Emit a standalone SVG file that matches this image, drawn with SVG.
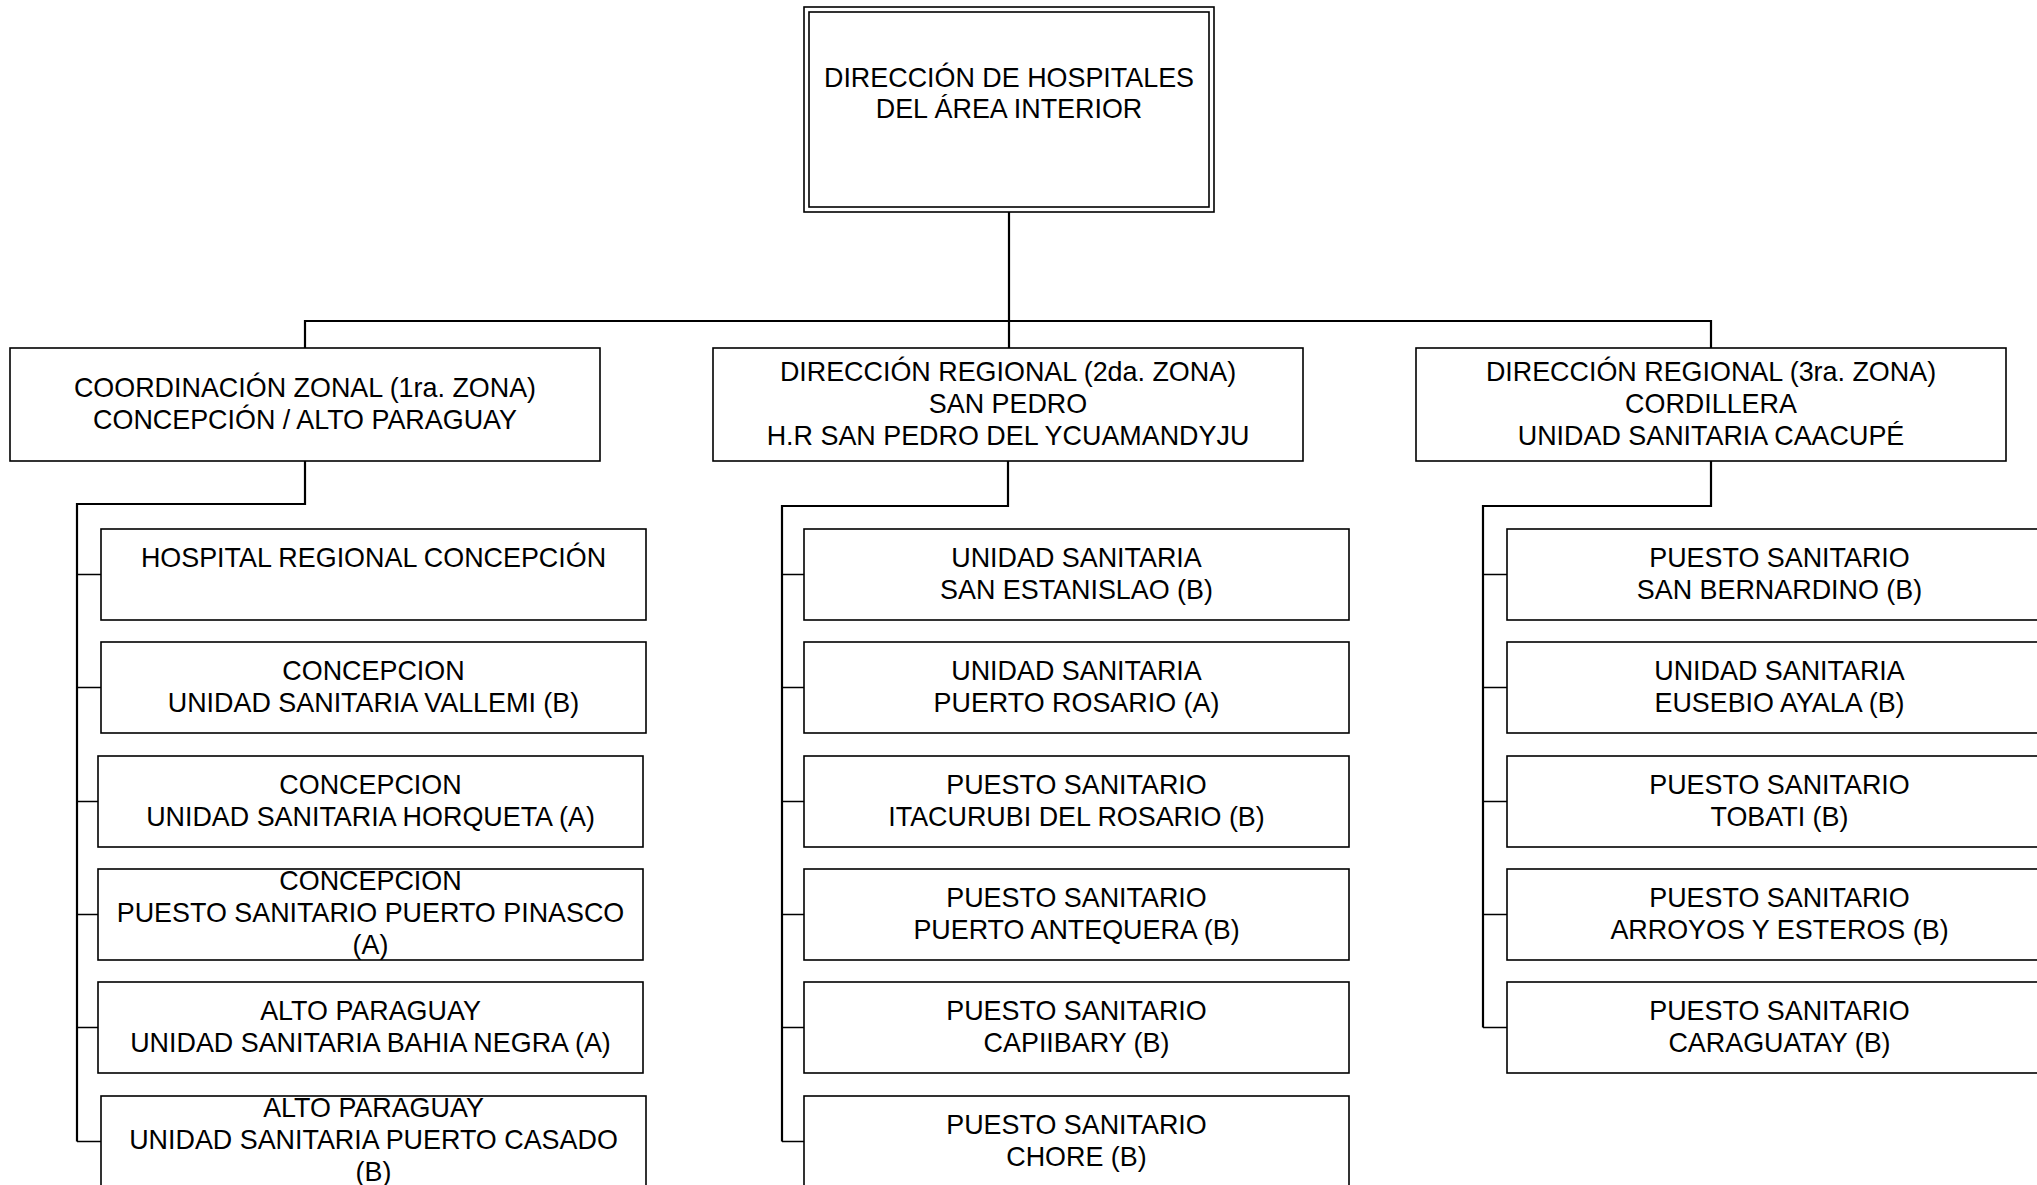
<svg xmlns="http://www.w3.org/2000/svg" width="2037" height="1185" viewBox="0 0 2037 1185">
<style>
.bg{fill:#ffffff}
.box{fill:#ffffff;stroke:#000;stroke-width:1.6}
.conn{fill:none;stroke:#000;stroke-width:2.2}
.stub{fill:none;stroke:#000;stroke-width:1.5}
text{font-family:"Liberation Sans",Arial,sans-serif;font-size:26.9px;fill:#000;text-anchor:middle}
</style>
<rect class="bg" x="0" y="0" width="2037" height="1185"/>
<g id="connectors">
<path class="conn" d="M1009 212 V348"/>
<path class="conn" d="M305 348 V321 H1711 V348"/>
<path class="conn" d="M305 461 V504 H77 V1141.5"/>
<path class="stub" d="M77 574.5 H101 M77 687.5 H101 M77 801.5 H98 M77 914.5 H98 M77 1027.5 H98 M77 1141.5 H101"/>
<path class="conn" d="M1008 461 V506 H782 V1141.5"/>
<path class="stub" d="M782 574.5 H804 M782 687.5 H804 M782 801.5 H804 M782 914.5 H804 M782 1027.5 H804 M782 1141.5 H804"/>
<path class="conn" d="M1711 461 V506 H1483 V1027.5"/>
<path class="stub" d="M1483 574.5 H1507 M1483 687.5 H1507 M1483 801.5 H1507 M1483 914.5 H1507 M1483 1027.5 H1507"/>
</g>
<g id="n_top">
<rect class="box" x="804" y="7" width="410" height="205"/>
<rect class="box" x="809" y="12" width="400" height="195"/>
<text x="1009" y="87">DIRECCIÓN DE HOSPITALES</text>
<text x="1009" y="118">DEL ÁREA INTERIOR</text>
</g>
<g id="n_zona1">
<rect class="box" x="10" y="348" width="590" height="113"/>
<text x="305" y="397">COORDINACIÓN ZONAL (1ra. ZONA)</text>
<text x="305" y="429">CONCEPCIÓN / ALTO PARAGUAY</text>
</g>
<g id="n_zona2">
<rect class="box" x="713" y="348" width="590" height="113"/>
<text x="1008" y="381">DIRECCIÓN REGIONAL (2da. ZONA)</text>
<text x="1008" y="413">SAN PEDRO</text>
<text x="1008" y="445">H.R SAN PEDRO DEL YCUAMANDYJU</text>
</g>
<g id="n_zona3">
<rect class="box" x="1416" y="348" width="590" height="113"/>
<text x="1711" y="381">DIRECCIÓN REGIONAL (3ra. ZONA)</text>
<text x="1711" y="413">CORDILLERA</text>
<text x="1711" y="445">UNIDAD SANITARIA CAACUPÉ</text>
</g>
<g id="n_l1">
<rect class="box" x="101" y="529" width="545" height="91"/>
<text x="373.5" y="567">HOSPITAL REGIONAL CONCEPCIÓN</text>
</g>
<g id="n_l2">
<rect class="box" x="101" y="642" width="545" height="91"/>
<text x="373.5" y="680">CONCEPCION</text>
<text x="373.5" y="712">UNIDAD SANITARIA VALLEMI (B)</text>
</g>
<g id="n_l3">
<rect class="box" x="98" y="756" width="545" height="91"/>
<text x="370.5" y="794">CONCEPCION</text>
<text x="370.5" y="826">UNIDAD SANITARIA HORQUETA (A)</text>
</g>
<g id="n_l4">
<rect class="box" x="98" y="869" width="545" height="91"/>
<text x="370.5" y="890">CONCEPCION</text>
<text x="370.5" y="922">PUESTO SANITARIO PUERTO PINASCO</text>
<text x="370.5" y="954">(A)</text>
</g>
<g id="n_l5">
<rect class="box" x="98" y="982" width="545" height="91"/>
<text x="370.5" y="1020">ALTO PARAGUAY</text>
<text x="370.5" y="1052">UNIDAD SANITARIA BAHIA NEGRA (A)</text>
</g>
<g id="n_l6">
<rect class="box" x="101" y="1096" width="545" height="91"/>
<text x="373.5" y="1117">ALTO PARAGUAY</text>
<text x="373.5" y="1149">UNIDAD SANITARIA PUERTO CASADO</text>
<text x="373.5" y="1181">(B)</text>
</g>
<g id="n_m1">
<rect class="box" x="804" y="529" width="545" height="91"/>
<text x="1076.5" y="567">UNIDAD SANITARIA</text>
<text x="1076.5" y="599">SAN ESTANISLAO (B)</text>
</g>
<g id="n_m2">
<rect class="box" x="804" y="642" width="545" height="91"/>
<text x="1076.5" y="680">UNIDAD SANITARIA</text>
<text x="1076.5" y="712">PUERTO ROSARIO (A)</text>
</g>
<g id="n_m3">
<rect class="box" x="804" y="756" width="545" height="91"/>
<text x="1076.5" y="794">PUESTO SANITARIO</text>
<text x="1076.5" y="826">ITACURUBI DEL ROSARIO (B)</text>
</g>
<g id="n_m4">
<rect class="box" x="804" y="869" width="545" height="91"/>
<text x="1076.5" y="907">PUESTO SANITARIO</text>
<text x="1076.5" y="939">PUERTO ANTEQUERA (B)</text>
</g>
<g id="n_m5">
<rect class="box" x="804" y="982" width="545" height="91"/>
<text x="1076.5" y="1020">PUESTO SANITARIO</text>
<text x="1076.5" y="1052">CAPIIBARY (B)</text>
</g>
<g id="n_m6">
<rect class="box" x="804" y="1096" width="545" height="91"/>
<text x="1076.5" y="1134">PUESTO SANITARIO</text>
<text x="1076.5" y="1166">CHORE (B)</text>
</g>
<g id="n_r1">
<rect class="box" x="1507" y="529" width="545" height="91"/>
<text x="1779.5" y="567">PUESTO SANITARIO</text>
<text x="1779.5" y="599">SAN BERNARDINO (B)</text>
</g>
<g id="n_r2">
<rect class="box" x="1507" y="642" width="545" height="91"/>
<text x="1779.5" y="680">UNIDAD SANITARIA</text>
<text x="1779.5" y="712">EUSEBIO AYALA (B)</text>
</g>
<g id="n_r3">
<rect class="box" x="1507" y="756" width="545" height="91"/>
<text x="1779.5" y="794">PUESTO SANITARIO</text>
<text x="1779.5" y="826">TOBATI (B)</text>
</g>
<g id="n_r4">
<rect class="box" x="1507" y="869" width="545" height="91"/>
<text x="1779.5" y="907">PUESTO SANITARIO</text>
<text x="1779.5" y="939">ARROYOS Y ESTEROS (B)</text>
</g>
<g id="n_r5">
<rect class="box" x="1507" y="982" width="545" height="91"/>
<text x="1779.5" y="1020">PUESTO SANITARIO</text>
<text x="1779.5" y="1052">CARAGUATAY (B)</text>
</g>
</svg>
